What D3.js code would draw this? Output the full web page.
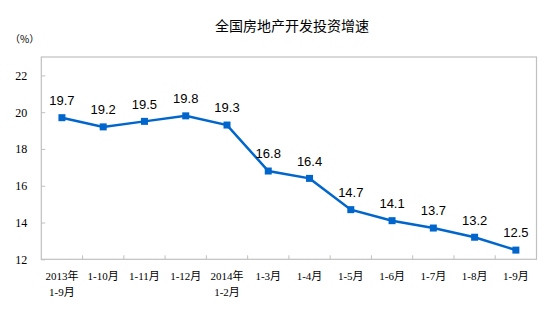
<!DOCTYPE html>
<html><head><meta charset="utf-8">
<script src="https://cdn.jsdelivr.net/npm/d3@7/dist/d3.min.js"></script>
<style>body{margin:0;background:#fff}svg{display:block}</style>
</head><body>
<svg id="c" width="554" height="335"></svg>
<script>
const categories = [["2013年","1-9月"],["1-10月"],["1-11月"],["1-12月"],["2014年","1-2月"],["1-3月"],["1-4月"],["1-5月"],["1-6月"],["1-7月"],["1-8月"],["1-9月"]];
const values = [19.7,19.2,19.5,19.8,19.3,16.8,16.4,14.7,14.1,13.7,13.2,12.5];
const yTicks = [12,14,16,18,20,22];
const title = "全国房地产开发投资增速";
const unit = "（%）";

const svg = d3.select("#c");
const L=41.3,R=536.5,T=57,B=259.3;
const x = d3.scaleBand().domain(d3.range(categories.length)).range([L,R]);
const y = d3.scaleLinear().domain([12,23]).range([B,T]);
const grey="#c0c0c0";

svg.append("text").attr("x",292).attr("y",31).attr("text-anchor","middle")
  .attr("font-family","'Noto Sans CJK SC'").attr("font-size",14).attr("fill","#000").text(title);
svg.append("text").attr("x",10).attr("y",43)
  .attr("font-family","'Noto Sans CJK SC'").attr("font-size",10).attr("fill","#000").text(unit);

// frame
svg.append("rect").attr("x",L).attr("y",T).attr("width",R-L).attr("height",B-T)
  .attr("fill","none").attr("stroke",grey).attr("stroke-width",1.2);

// y axis
const ya = svg.append("g").attr("transform",`translate(${L},0)`)
  .call(d3.axisRight(y).tickValues(yTicks).tickSize(4).tickFormat(d3.format("d")));
ya.select(".domain").remove();
ya.selectAll("line").attr("stroke",grey);
ya.selectAll("text").attr("x",-14).attr("text-anchor","end")
  .attr("font-family","'Liberation Serif'").attr("font-size",12).attr("fill","#000");

// x ticks at band boundaries
const xa = svg.append("g").attr("transform",`translate(0,${B})`)
  .call(d3.axisTop(x).tickSize(4).tickFormat(""));
xa.select(".domain").remove();
xa.selectAll(".tick").attr("transform",d=>`translate(${x(d)},0)`);
xa.selectAll(".tick").filter(d=>d===0).remove();
xa.selectAll("line").attr("stroke",grey);

// x labels
const xl = svg.append("g");
categories.forEach((lines,i)=>{
  const t = xl.append("text").attr("x",x(i)+x.bandwidth()/2).attr("y",280)
   .attr("text-anchor","middle").attr("font-family","'Liberation Serif','Noto Sans CJK SC'")
   .attr("font-size",11).attr("fill","#000");
  lines.forEach((s,j)=>t.append("tspan").attr("x",x(i)+x.bandwidth()/2).attr("dy",j?15.5:0).text(s));
});

const cx = i=>x(i)+x.bandwidth()/2;
svg.append("path").datum(values)
  .attr("d",d3.line().x((d,i)=>cx(i)).y(d=>y(d)))
  .attr("fill","none").attr("stroke","#0066cc").attr("stroke-width",2.5);
svg.selectAll("rect.m").data(values).join("rect").attr("class","m")
  .attr("x",(d,i)=>cx(i)-3.5).attr("y",d=>y(d)-3.5).attr("width",7).attr("height",7).attr("fill","#0066cc");
svg.selectAll("text.v").data(values).join("text").attr("class","v")
  .attr("x",(d,i)=>cx(i)).attr("y",d=>y(d)-12.7).attr("text-anchor","middle")
  .attr("font-family","'Liberation Sans'").attr("font-size",13).attr("fill","#000")
  .text(d=>d.toFixed(1));
</script>
</body></html>
